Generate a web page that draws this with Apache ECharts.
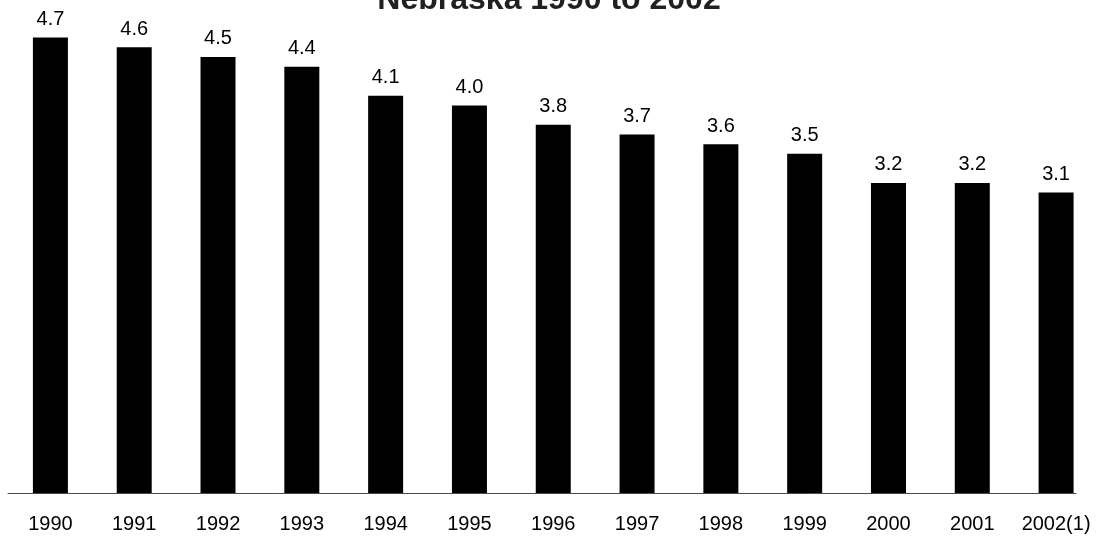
<!DOCTYPE html>
<html>
<head>
<meta charset="utf-8">
<script src="https://cdn.jsdelivr.net/npm/echarts@6/dist/echarts.min.js"></script>
<style>html,body{margin:0;padding:0;background:#fff;}#c{width:1098px;height:536px;}</style>
</head>
<body>
<div id="c"></div>
<script>
const titleText = 'Nebraska 1990 to 2002';
const years = ['1990','1991','1992','1993','1994','1995','1996','1997','1998','1999','2000','2001','2002(1)'];
const values = [4.7,4.6,4.5,4.4,4.1,4.0,3.8,3.7,3.6,3.5,3.2,3.2,3.1];

const font = '"Liberation Sans", Arial, sans-serif';
const chart = echarts.init(document.getElementById('c'));
chart.setOption({
  animation: false,
  backgroundColor: '#fff',
  title: {
    text: titleText,
    left: 'center',
    top: -21,
    textStyle: { fontFamily: font, fontSize: 32, fontWeight: 'bold', color: '#231f20' }
  },
  grid: [
    { left: 8.5, right: -2.5, top: 8.5, bottom: 43 },
    { left: 8, right: 22, top: 8.5, bottom: 43 }
  ],
  xAxis: [
    {
      type: 'category', data: years, gridIndex: 0,
      axisLine: { show: false },
      axisTick: { show: false },
      axisLabel: { interval: 0, fontFamily: font, fontSize: 20, color: '#000', margin: 21 }
    },
    {
      type: 'category', data: years, gridIndex: 1,
      axisLine: { show: true, lineStyle: { color: '#4a4a4a', width: 1 } },
      axisTick: { show: false },
      axisLabel: { show: false }
    }
  ],
  yAxis: [
    { type: 'value', min: 0, max: 5, gridIndex: 0, show: false, splitLine: { show: false } },
    { type: 'value', min: 0, max: 5, gridIndex: 1, show: false, splitLine: { show: false } }
  ],
  series: [{
    type: 'bar',
    data: values,
    barWidth: 35,
    itemStyle: { color: '#000' },
    label: {
      show: true, position: 'top', distance: 8,
      fontFamily: font, fontSize: 20, color: '#000',
      formatter: p => p.value.toFixed(1)
    }
  }]
});
</script>
</body>
</html>
